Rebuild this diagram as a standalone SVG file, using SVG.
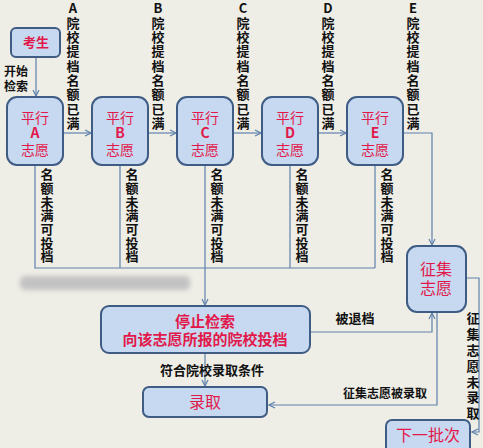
<svg xmlns="http://www.w3.org/2000/svg" width="483" height="448" viewBox="0 0 483 448">
<style>
.box{fill:#c6d9f0;stroke:#3f5c84;stroke-width:2}
.ln{fill:none;stroke:#5f82ad;stroke-width:1.2}
.nt{font-family:"Noto Sans CJK SC","Liberation Sans",sans-serif;fill:#e2184a;text-anchor:middle}
.lb{font-family:"Noto Sans CJK SC","Liberation Sans",sans-serif;fill:#111;font-weight:bold;text-anchor:middle}
.vt{font-family:"Noto Sans CJK SC","Liberation Sans",sans-serif;fill:#111;font-weight:bold;font-size:13px;writing-mode:vertical-rl;text-orientation:upright;text-anchor:start}
.v1{letter-spacing:1.3px}
.v2{letter-spacing:0.67px}
.v3{letter-spacing:2.8px}
</style>
<defs>
<marker id="ar" markerWidth="8" markerHeight="8" refX="7" refY="4" orient="auto" markerUnits="userSpaceOnUse">
<path d="M1,1 L7,4 L1,7" fill="none" stroke="#5f82ad" stroke-width="1.2"/>
</marker>
<filter id="bl" x="-20%" y="-50%" width="140%" height="200%"><feGaussianBlur stdDeviation="2.5"/></filter>
</defs>
<rect width="483" height="448" fill="#eeede6"/>
<rect x="20" y="276" width="170" height="14" rx="5" fill="#c2c2c2" filter="url(#bl)"/>

<g id="connectors">
<path class="ln" d="M36,57 V96" marker-end="url(#ar)"/>
<path class="ln" d="M63,133 H91" marker-end="url(#ar)"/>
<path class="ln" d="M148,133 H176" marker-end="url(#ar)"/>
<path class="ln" d="M233,133 H261" marker-end="url(#ar)"/>
<path class="ln" d="M318,133 H346" marker-end="url(#ar)"/>
<path class="ln" d="M403,133 H432 V245" marker-end="url(#ar)"/>
<path class="ln" d="M35,165 V268 H375 M120,165 V268 M205,165 V268 M290,165 V268 M375,165 V268"/>
<path class="ln" d="M205,268 V305" marker-end="url(#ar)"/>
<path class="ln" d="M205,353 V386" marker-end="url(#ar)"/>
<path class="ln" d="M310,332 H432 V313" marker-end="url(#ar)"/>
<path class="ln" d="M437,313 V405 H269" marker-end="url(#ar)"/>
<path class="ln" d="M466,278 H479 V432 H472" marker-end="url(#ar)"/>
</g>

<g id="labels">
<text class="lb" font-size="12"><tspan x="16" y="76">开始</tspan><tspan x="16" y="91">检索</tspan></text>
<text class="vt v1" x="73" y="2">A院校提档名额已满</text>
<text class="vt v1" x="158" y="2">B院校提档名额已满</text>
<text class="vt v1" x="243" y="2">C院校提档名额已满</text>
<text class="vt v1" x="328" y="2">D院校提档名额已满</text>
<text class="vt v1" x="413" y="2">E院校提档名额已满</text>
<text class="vt v2" x="47" y="168">名额未满可投档</text>
<text class="vt v2" x="132" y="168">名额未满可投档</text>
<text class="vt v2" x="217" y="168">名额未满可投档</text>
<text class="vt v2" x="302" y="168">名额未满可投档</text>
<text class="vt v2" x="387" y="168">名额未满可投档</text>
<text class="lb" font-size="13" x="355" y="323">被退档</text>
<text class="lb" font-size="13" x="212" y="375" text-anchor="start">符合院校录取条件</text>
<text class="lb" font-size="12" x="385" y="398">征集志愿被录取</text>
<text class="vt v3" x="473" y="312">征集志愿未录取</text>
</g>

<g id="node-student"><rect class="box" x="11" y="28" width="49" height="29" rx="5"/><text class="nt" font-size="13" font-weight="bold" x="36" y="47">考生</text></g>
<g id="node-A"><rect class="box" x="7" y="97" width="56" height="68" rx="10"/><text class="nt" font-size="14"><tspan x="35" y="123">平行</tspan><tspan x="35" y="138" font-weight="bold">A</tspan><tspan x="35" y="155">志愿</tspan></text></g>
<g id="node-B"><rect class="box" x="92" y="97" width="56" height="68" rx="10"/><text class="nt" font-size="14"><tspan x="120" y="123">平行</tspan><tspan x="120" y="138" font-weight="bold">B</tspan><tspan x="120" y="155">志愿</tspan></text></g>
<g id="node-C"><rect class="box" x="177" y="97" width="56" height="68" rx="10"/><text class="nt" font-size="14"><tspan x="205" y="123">平行</tspan><tspan x="205" y="138" font-weight="bold">C</tspan><tspan x="205" y="155">志愿</tspan></text></g>
<g id="node-D"><rect class="box" x="262" y="97" width="56" height="68" rx="10"/><text class="nt" font-size="14"><tspan x="290" y="123">平行</tspan><tspan x="290" y="138" font-weight="bold">D</tspan><tspan x="290" y="155">志愿</tspan></text></g>
<g id="node-E"><rect class="box" x="347" y="97" width="56" height="68" rx="10"/><text class="nt" font-size="14"><tspan x="375" y="123">平行</tspan><tspan x="375" y="138" font-weight="bold">E</tspan><tspan x="375" y="155">志愿</tspan></text></g>
<g id="node-zhengji"><rect class="box" x="407" y="246" width="59" height="66" rx="10"/><text class="nt" font-size="16"><tspan x="436" y="275">征集</tspan><tspan x="436" y="294">志愿</tspan></text></g>
<g id="node-stop"><rect class="box" x="101" y="306" width="209" height="47" rx="8"/><text class="nt" font-size="15" font-weight="bold"><tspan x="205" y="327">停止检索</tspan><tspan x="205" y="345">向该志愿所报的院校投档</tspan></text></g>
<g id="node-luqu"><rect class="box" x="143" y="387" width="124" height="30" rx="6"/><text class="nt" font-size="16" x="205" y="408">录取</text></g>
<g id="node-next"><rect class="box" x="386" y="420" width="84" height="33" rx="6"/><text class="nt" font-size="16" x="428" y="441">下一批次</text></g>
</svg>
